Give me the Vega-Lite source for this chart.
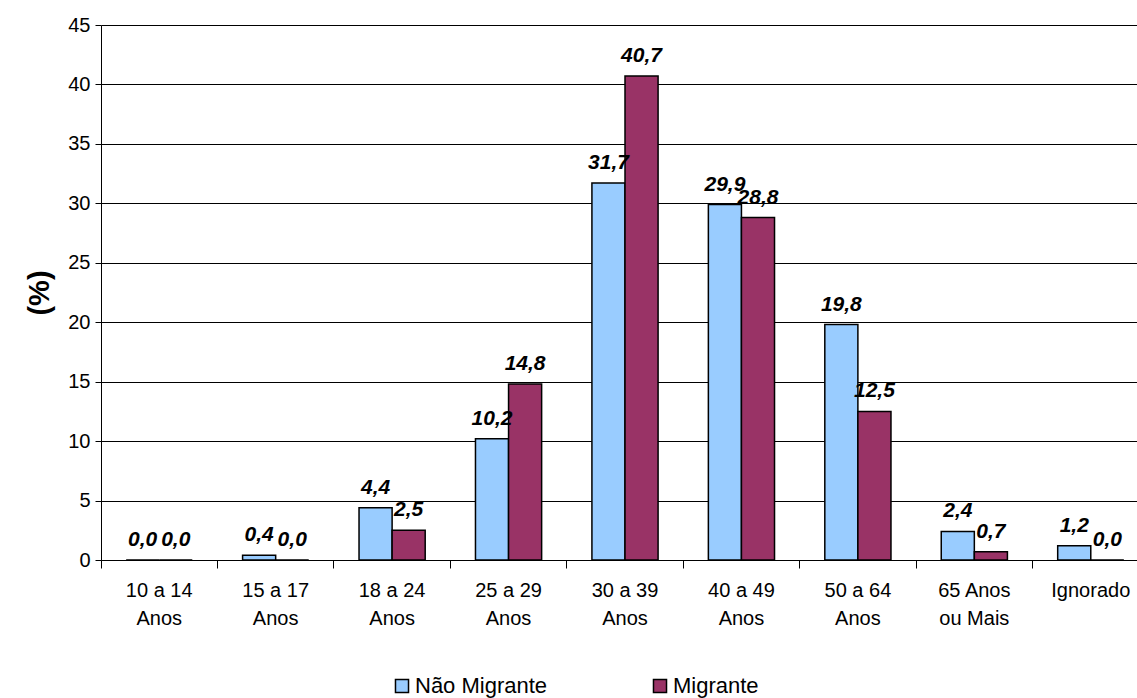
{
  "$schema": "https://vega.github.io/schema/vega-lite/v6.json",
  "autosize": {"type": "none"},
  "width": 1048,
  "height": 535,
  "padding": {"left": 101, "top": 25, "right": 0, "bottom": 138},
  "background": "white",
  "config": {
    "font": "Liberation Sans",
    "view": {"stroke": null},
    "axis": {"labelFont": "Liberation Sans", "titleFont": "Liberation Sans"}
  },
  "data": {
    "values": [
      {"faixa": "10 a 14 Anos", "grupo": "Não Migrante", "pct": 0.0},
      {"faixa": "10 a 14 Anos", "grupo": "Migrante", "pct": 0.0},
      {"faixa": "15 a 17 Anos", "grupo": "Não Migrante", "pct": 0.4},
      {"faixa": "15 a 17 Anos", "grupo": "Migrante", "pct": 0.0},
      {"faixa": "18 a 24 Anos", "grupo": "Não Migrante", "pct": 4.4},
      {"faixa": "18 a 24 Anos", "grupo": "Migrante", "pct": 2.5},
      {"faixa": "25 a 29 Anos", "grupo": "Não Migrante", "pct": 10.2},
      {"faixa": "25 a 29 Anos", "grupo": "Migrante", "pct": 14.8},
      {"faixa": "30 a 39 Anos", "grupo": "Não Migrante", "pct": 31.7},
      {"faixa": "30 a 39 Anos", "grupo": "Migrante", "pct": 40.7},
      {"faixa": "40 a 49 Anos", "grupo": "Não Migrante", "pct": 29.9},
      {"faixa": "40 a 49 Anos", "grupo": "Migrante", "pct": 28.8},
      {"faixa": "50 a 64 Anos", "grupo": "Não Migrante", "pct": 19.8},
      {"faixa": "50 a 64 Anos", "grupo": "Migrante", "pct": 12.5},
      {"faixa": "65 Anos ou Mais", "grupo": "Não Migrante", "pct": 2.4},
      {"faixa": "65 Anos ou Mais", "grupo": "Migrante", "pct": 0.7},
      {"faixa": "Ignorado", "grupo": "Não Migrante", "pct": 1.2},
      {"faixa": "Ignorado", "grupo": "Migrante", "pct": 0.0}
    ]
  },
  "encoding": {
    "x": {
      "field": "faixa",
      "type": "nominal",
      "sort": null,
      "scale": {"paddingInner": 0, "paddingOuter": 0},
      "axis": {
        "title": null,
        "bandPosition": 0,
        "labelAngle": 0,
        "labelFontSize": 20,
        "labelColor": "black",
        "labelPadding": 12,
        "labelLineHeight": 28,
        "labelBaseline": "top",
        "labelExpr": "datum.value == 'Ignorado' ? 'Ignorado' : datum.value == '65 Anos ou Mais' ? ['65 Anos', 'ou Mais'] : [replace(datum.value, ' Anos', ''), 'Anos']",
        "domainColor": "black",
        "domainWidth": 1,
        "tickColor": "black",
        "tickSize": 8,
        "grid": false
      }
    },
    "xOffset": {
      "field": "grupo",
      "type": "nominal",
      "sort": ["Não Migrante", "Migrante"],
      "scale": {"paddingInner": 0, "paddingOuter": 0.76}
    },
    "y": {
      "field": "pct",
      "type": "quantitative",
      "scale": {"domain": [0, 45], "nice": false},
      "axis": {
        "title": "(%)",
        "titleFontSize": 29,
        "titleFontWeight": "bold",
        "titleColor": "black",
        "titlePadding": 13,
        "values": [0, 5, 10, 15, 20, 25, 30, 35, 40, 45],
        "labelFontSize": 20,
        "labelColor": "black",
        "labelPadding": 5,
        "domainColor": "black",
        "tickColor": "black",
        "tickSize": 6,
        "grid": true,
        "gridColor": "black",
        "gridWidth": 1
      }
    }
  },
  "layer": [
    {
      "mark": {"type": "bar", "stroke": "black", "strokeWidth": 1.5},
      "encoding": {
        "color": {
          "field": "grupo",
          "type": "nominal",
          "sort": ["Não Migrante", "Migrante"],
          "scale": {"domain": ["Não Migrante", "Migrante"], "range": ["#99CCFF", "#993366"]},
          "legend": {
            "title": null,
            "orient": "none",
            "direction": "horizontal",
            "legendX": 290,
            "legendY": 650,
            "symbolType": "square",
            "symbolSize": 170,
            "symbolStrokeColor": "black",
            "symbolStrokeWidth": 1.5,
            "symbolOpacity": 1,
            "labelFontSize": 22,
            "labelColor": "black",
            "labelOffset": 2,
            "columnPadding": 101
          }
        }
      }
    },
    {
      "mark": {
        "type": "text",
        "baseline": "alphabetic",
        "dy": -14,
        "fontSize": 21,
        "fontWeight": "bold",
        "fontStyle": "italic",
        "color": "black"
      },
      "encoding": {
        "text": {"field": "pct", "type": "quantitative", "format": ".1f", "formatType": "number"}
      }
    }
  ],
  "usermeta": {"embedOptions": {"formatLocale": {"decimal": ",", "thousands": ".", "grouping": [3], "currency": ["R$", ""]}}}
}
